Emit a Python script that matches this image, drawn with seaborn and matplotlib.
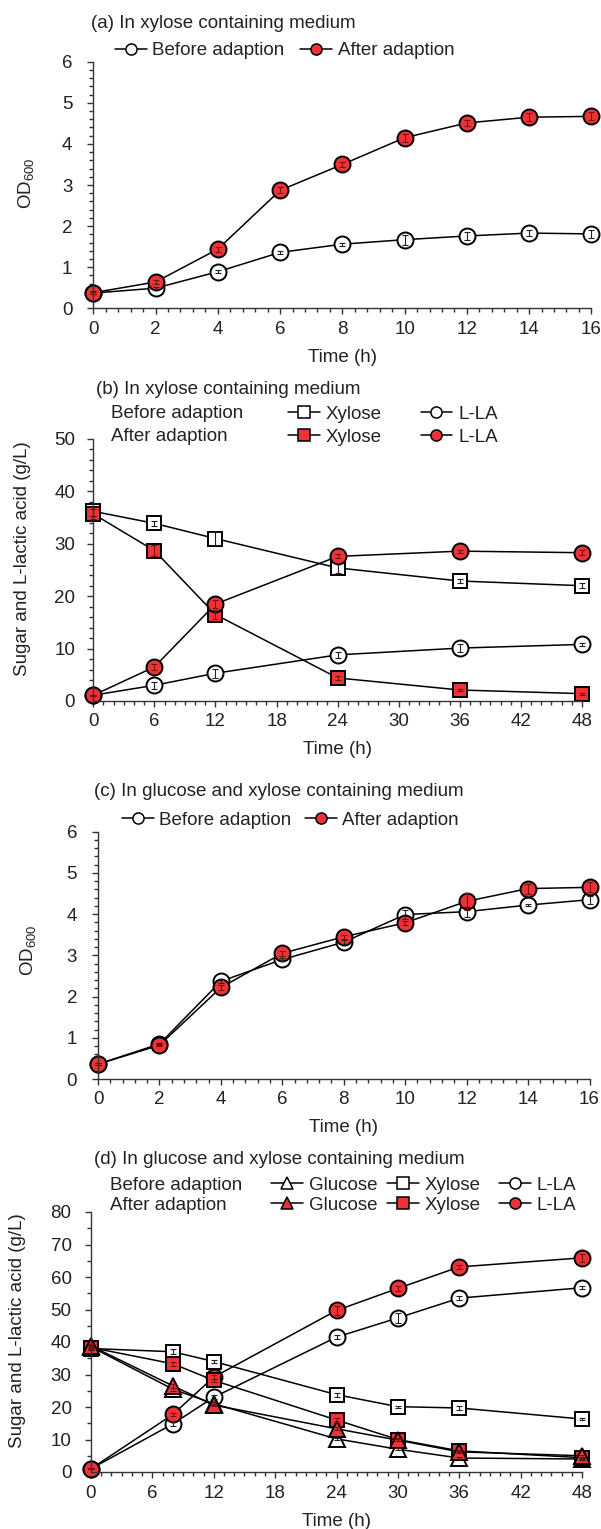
import numpy as np
import pandas as pd
import matplotlib
matplotlib.use("Agg")
import matplotlib.pyplot as plt
from matplotlib.ticker import MultipleLocator
from matplotlib.lines import Line2D
import seaborn as sns

# ---------------- data ----------------
time_a = [0, 2, 4, 6, 8, 10, 12, 14, 16]
od_before_a = [0.37, 0.49, 0.89, 1.36, 1.56, 1.67, 1.76, 1.83, 1.81]
od_after_a = [0.38, 0.64, 1.44, 2.87, 3.50, 4.15, 4.51, 4.65, 4.67]
err_before_a = [0.02, 0.03, 0.03, 0.03, 0.04, 0.12, 0.10, 0.07, 0.09]
err_after_a = [0.03, 0.04, 0.06, 0.07, 0.05, 0.10, 0.08, 0.10, 0.10]

time_b = [0, 6, 12, 24, 36, 48]
xyl_before_b = [36.2, 33.9, 31.0, 25.4, 22.9, 22.0]
xyl_after_b = [35.7, 28.7, 16.5, 4.4, 2.1, 1.4]
lla_before_b = [1.1, 3.0, 5.3, 8.8, 10.1, 10.8]
lla_after_b = [1.1, 6.5, 18.5, 27.6, 28.6, 28.3]
err_xyl_before_b = [0.8, 0.5, 1.2, 1.0, 0.3, 0.5]
err_xyl_after_b = [0.9, 1.0, 0.8, 0.3, 0.2, 0.2]
err_lla_before_b = [0.1, 0.7, 0.9, 0.6, 0.7, 0.3]
err_lla_after_b = [0.1, 0.5, 0.7, 0.4, 0.3, 0.5]

time_c = [0, 2, 4, 6, 8, 10, 12, 14, 16]
od_before_c = [0.36, 0.85, 2.37, 2.90, 3.32, 3.99, 4.06, 4.22, 4.35]
od_after_c = [0.36, 0.82, 2.22, 3.05, 3.45, 3.79, 4.31, 4.62, 4.65]
err_before_c = [0.03, 0.03, 0.04, 0.04, 0.05, 0.10, 0.12, 0.03, 0.10]
err_after_c = [0.03, 0.03, 0.05, 0.06, 0.05, 0.05, 0.20, 0.12, 0.12]

time_d = [0, 8, 12, 24, 30, 36, 48]
glc_before_d = [38.5, 25.5, 21.0, 10.2, 7.0, 4.3, 4.0]
glc_after_d = [38.8, 26.5, 20.6, 13.3, 9.8, 6.2, 5.0]
xyl_before_d = [38.0, 37.0, 34.0, 23.8, 20.1, 19.7, 16.3]
xyl_after_d = [38.3, 33.3, 28.2, 16.0, 10.0, 6.5, 4.4]
lla_before_d = [1.0, 14.8, 23.0, 41.5, 47.4, 53.5, 56.7]
lla_after_d = [1.0, 17.7, 29.2, 49.7, 56.5, 63.1, 65.9]
err_glc_before_d = [0.5, 0.5, 0.4, 0.4, 0.3, 0.3, 0.3]
err_glc_after_d = [0.5, 0.6, 0.4, 0.5, 0.4, 0.3, 0.3]
err_xyl_before_d = [0.5, 0.8, 0.6, 0.6, 0.3, 0.6, 0.4]
err_xyl_after_d = [0.5, 0.6, 0.5, 0.6, 0.4, 0.4, 0.3]
err_lla_before_d = [0.2, 0.5, 0.6, 0.6, 1.5, 0.6, 0.5]
err_lla_after_d = [0.2, 0.6, 0.6, 1.5, 0.8, 0.6, 1.2]

titles = ["(a) In xylose containing medium",
          "(b) In xylose containing medium",
          "(c) In glucose and xylose containing medium",
          "(d) In glucose and xylose containing medium"]
row_labels = ["Before adaption", "After adaption"]

# ---------------- style ----------------
sns.set_theme(style="ticks")
plt.rcParams["font.family"] = ["Liberation Sans", "DejaVu Sans"]
plt.rcParams["mathtext.fontset"] = "custom"
plt.rcParams["mathtext.rm"] = "Liberation Sans"
plt.rcParams["mathtext.it"] = "Liberation Sans:italic"
plt.rcParams["mathtext.bf"] = "Liberation Sans:bold"

FS = 13.5
TXT = "#222222"
RED = "#EE3338"
W, H = 601, 1529

fig = plt.figure(figsize=(W / 100, H / 100), dpi=100)
fig.patch.set_facecolor("white")


def add_ax(l, r, t, b):
    return fig.add_axes([l / W, 1 - b / H, (r - l) / W, (b - t) / H])


def style_ax(ax, xmax, xmaj, xmin, ymax, ymaj, ymin, ypad):
    ax.set_facecolor("none")
    ax.set_xlim(0, xmax)
    ax.set_ylim(0, ymax)
    ax.xaxis.set_major_locator(MultipleLocator(xmaj))
    ax.xaxis.set_minor_locator(MultipleLocator(xmin))
    ax.yaxis.set_major_locator(MultipleLocator(ymaj))
    ax.yaxis.set_minor_locator(MultipleLocator(ymin))
    sns.despine(ax=ax)
    for s in ("left", "bottom"):
        ax.spines[s].set_color("#333333")
        ax.spines[s].set_linewidth(1.0)
    ax.tick_params(which="both", direction="out", color="#333333", width=1.0,
                   labelsize=FS, labelcolor=TXT)
    ax.tick_params(which="major", length=4)
    ax.tick_params(which="minor", length=3)
    ax.tick_params(axis="y", which="major", pad=ypad)
    ax.tick_params(axis="x", which="major", pad=5)


def series(ax, t, v, e, marker, fc, ms):
    sns.lineplot(x=t, y=v, ax=ax, color="black", linewidth=1.1, marker=marker,
                 markersize=ms, markerfacecolor=fc, markeredgecolor="black",
                 markeredgewidth=1.4, errorbar=None, legend=False, clip_on=False,
                 sort=False)
    ecol = "#7a1010" if fc != "white" else "#222222"
    ax.errorbar(t, v, yerr=e, fmt="none", ecolor=ecol, elinewidth=0.8,
                capsize=2.5, capthick=0.8, zorder=5, clip_on=False)


def entry(x, y, marker, fc, label):
    h = Line2D([], [], color="black", lw=1.1, marker=marker, markersize=8,
               markerfacecolor=fc, markeredgecolor="black", markeredgewidth=1.1)
    fig.legend(handles=[h], labels=[label], loc="center left",
               bbox_to_anchor=(x / W, 1 - y / H), bbox_transform=fig.transFigure,
               frameon=False, borderpad=0, borderaxespad=0, handlelength=1.7,
               handletextpad=0.3, fontsize=FS, labelcolor=TXT)


def title(x, y, s):
    fig.text(x / W, 1 - y / H, s, ha="left", va="center", fontsize=FS, color=TXT)


def labels(ax, l, r, t, b, ylab, yright, yc):
    ax.set_xlabel("Time (h)", fontsize=FS, color=TXT)
    ax.set_ylabel(ylab, fontsize=FS, color=TXT)
    ax.xaxis.set_label_coords(0.5, -49 / (b - t))
    ax.xaxis.label.set_va("center")
    ax.yaxis.set_label_coords((yright - l) / (r - l), yc)


OD = r"OD$_{\mathrm{600}}$"
SUG = "Sugar and L-lactic acid (g/L)"

# ---------------- (a) ----------------
L, R, T, B = 93.3, 591.4, 61.7, 308.3
ax = add_ax(L, R, T, B)
style_ax(ax, 16, 2, 0.4, 6, 1, 0.2, 11)
series(ax, time_a, od_before_a, err_before_a, "o", "white", 11.5)
series(ax, time_a, od_after_a, err_after_a, "o", RED, 11.5)
labels(ax, L, R, T, B, OD, 36.5, 0.508)
title(91, 23, titles[0])
entry(115, 50.7, "o", "white", "Before adaption")
entry(300, 50.7, "o", RED, "After adaption")

# ---------------- (b) ----------------
L, R, T, B = 93.3, 582, 439, 701
ax = add_ax(L, R, T, B)
style_ax(ax, 48, 6, 1, 50, 10, 2, 9)
series(ax, time_b, xyl_before_b, err_xyl_before_b, "s", "white", 10.5)
series(ax, time_b, lla_before_b, err_lla_before_b, "o", "white", 11.5)
series(ax, time_b, xyl_after_b, err_xyl_after_b, "s", RED, 10.5)
series(ax, time_b, lla_after_b, err_lla_after_b, "o", RED, 11.5)
labels(ax, L, R, T, B, SUG, 31, 0.542)
title(96, 390, titles[1])
for yy, lab, fc in [(414, row_labels[0], "white"), (437, row_labels[1], RED)]:
    fig.text(111 / W, 1 - yy / H, lab, ha="left", va="center", fontsize=FS, color=TXT)
    entry(288, yy, "s", fc, "Xylose")
    entry(420.5, yy, "o", fc, "L-LA")

# ---------------- (c) ----------------
L, R, T, B = 98, 589.5, 831.7, 1079
ax = add_ax(L, R, T, B)
style_ax(ax, 16, 2, 0.4, 6, 1, 0.2, 11)
series(ax, time_c, od_before_c, err_before_c, "o", "white", 11.5)
series(ax, time_c, od_after_c, err_after_c, "o", RED, 11.5)
labels(ax, L, R, T, B, OD, 38, 0.52)
title(94, 791.7, titles[2])
entry(122, 820, "o", "white", "Before adaption")
entry(305, 820, "o", RED, "After adaption")

# ---------------- (d) ----------------
L, R, T, B = 91, 582, 1212, 1472
ax = add_ax(L, R, T, B)
style_ax(ax, 48, 6, 1, 80, 10, 5, 10)
series(ax, time_d, lla_before_d, err_lla_before_d, "o", "white", 11.5)
series(ax, time_d, xyl_before_d, err_xyl_before_d, "s", "white", 10.5)
series(ax, time_d, glc_before_d, err_glc_before_d, "^", "white", 11.5)
series(ax, time_d, lla_after_d, err_lla_after_d, "o", RED, 11.5)
series(ax, time_d, xyl_after_d, err_xyl_after_d, "s", RED, 10.5)
series(ax, time_d, glc_after_d, err_glc_after_d, "^", RED, 11.5)
labels(ax, L, R, T, B, SUG, 26, 0.542)
title(94, 1160, titles[3])
for yy, lab, fc in [(1185, row_labels[0], "white"), (1205, row_labels[1], RED)]:
    fig.text(109.5 / W, 1 - yy / H, lab, ha="left", va="center", fontsize=FS, color=TXT)
    entry(271, yy, "^", fc, "Glucose")
    entry(387, yy, "s", fc, "Xylose")
    entry(499, yy, "o", fc, "L-LA")

fig.savefig("out.png", dpi=100, facecolor="white")
